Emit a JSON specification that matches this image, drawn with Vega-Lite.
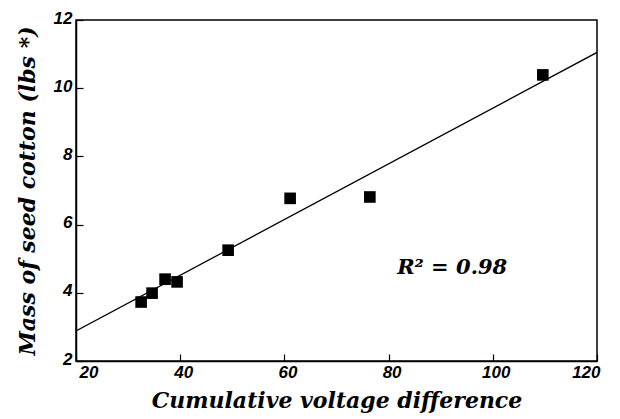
{
  "$schema": "https://vega.github.io/schema/vega-lite/v6.json",
  "width": 521,
  "height": 341,
  "autosize": {"type": "none"},
  "padding": {"left": 76, "top": 20, "right": 23, "bottom": 58},
  "background": "white",
  "config": {
    "view": {"stroke": "black", "strokeWidth": 1.5},
    "axis": {
      "domainColor": "black",
      "domainWidth": 1.5,
      "tickColor": "black",
      "tickWidth": 1.2,
      "grid": false,
      "labelColor": "black",
      "titleColor": "black",
      "labelFont": "Liberation Sans",
      "labelFontWeight": "bold",
      "labelFontStyle": "italic",
      "labelFontSize": 17
    }
  },
  "datasets": {
    "points": [
      {"voltage": 32.5, "mass": 3.73},
      {"voltage": 34.6, "mass": 3.99},
      {"voltage": 37.1, "mass": 4.4},
      {"voltage": 39.4, "mass": 4.32},
      {"voltage": 49.2, "mass": 5.25},
      {"voltage": 61.1, "mass": 6.77},
      {"voltage": 76.4, "mass": 6.81},
      {"voltage": 109.6, "mass": 10.39}
    ],
    "fit": [
      {"voltage": 20, "mass": 2.88},
      {"voltage": 120, "mass": 11.05}
    ],
    "note": [
      {"voltage": 92.2, "mass": 4.73, "label": "R² = 0.98"}
    ]
  },
  "layer": [
    {
      "data": {"name": "fit"},
      "mark": {"type": "line", "color": "black", "strokeWidth": 1.3, "clip": true},
      "encoding": {
        "x": {
          "field": "voltage", "type": "quantitative",
          "scale": {"domain": [20, 120], "nice": false},
          "axis": {
            "values": [20, 40, 60, 80, 100, 120],
            "tickSize": -7,
            "labelPadding": 10,
            "labelOffset": 3,
            "labelFont": "Liberation Sans",
            "labelFontWeight": "bold",
            "labelFontStyle": "italic",
            "labelFontSize": 17,
            "title": "Cumulative voltage difference",
            "titleFont": "DejaVu Serif",
            "titleFontWeight": "bold",
            "titleFontStyle": "italic",
            "titleFontSize": 22,
            "titlePadding": 10
          }
        },
        "y": {
          "field": "mass", "type": "quantitative",
          "scale": {"domain": [2, 12], "nice": false},
          "axis": {
            "values": [2, 3, 4, 5, 6, 7, 8, 9, 10, 11, 12],
            "labelExpr": "datum.value % 2 == 0 ? datum.label : ''",
            "tickSize": {"condition": {"test": "datum.value % 2 == 0", "value": -7}, "value": -4},
            "labelPadding": 11,
            "labelBaseline": "middle",
            "labelOffset": -2,
            "labelFont": "Liberation Sans",
            "labelFontWeight": "bold",
            "labelFontStyle": "italic",
            "labelFontSize": 17,
            "title": "Mass of seed cotton (lbs *)",
            "titleFont": "DejaVu Serif",
            "titleFontWeight": "bold",
            "titleFontStyle": "italic",
            "titleFontSize": 22,
            "titlePadding": 14
          }
        }
      }
    },
    {
      "data": {"name": "points"},
      "mark": {"type": "square", "color": "black", "size": 135, "opacity": 1},
      "encoding": {
        "x": {"field": "voltage", "type": "quantitative"},
        "y": {"field": "mass", "type": "quantitative"}
      }
    },
    {
      "data": {"name": "note"},
      "mark": {"type": "text", "font": "DejaVu Serif", "fontWeight": "bold", "fontStyle": "italic", "fontSize": 21, "color": "black"},
      "encoding": {
        "x": {"field": "voltage", "type": "quantitative"},
        "y": {"field": "mass", "type": "quantitative"},
        "text": {"field": "label"}
      }
    }
  ]
}
